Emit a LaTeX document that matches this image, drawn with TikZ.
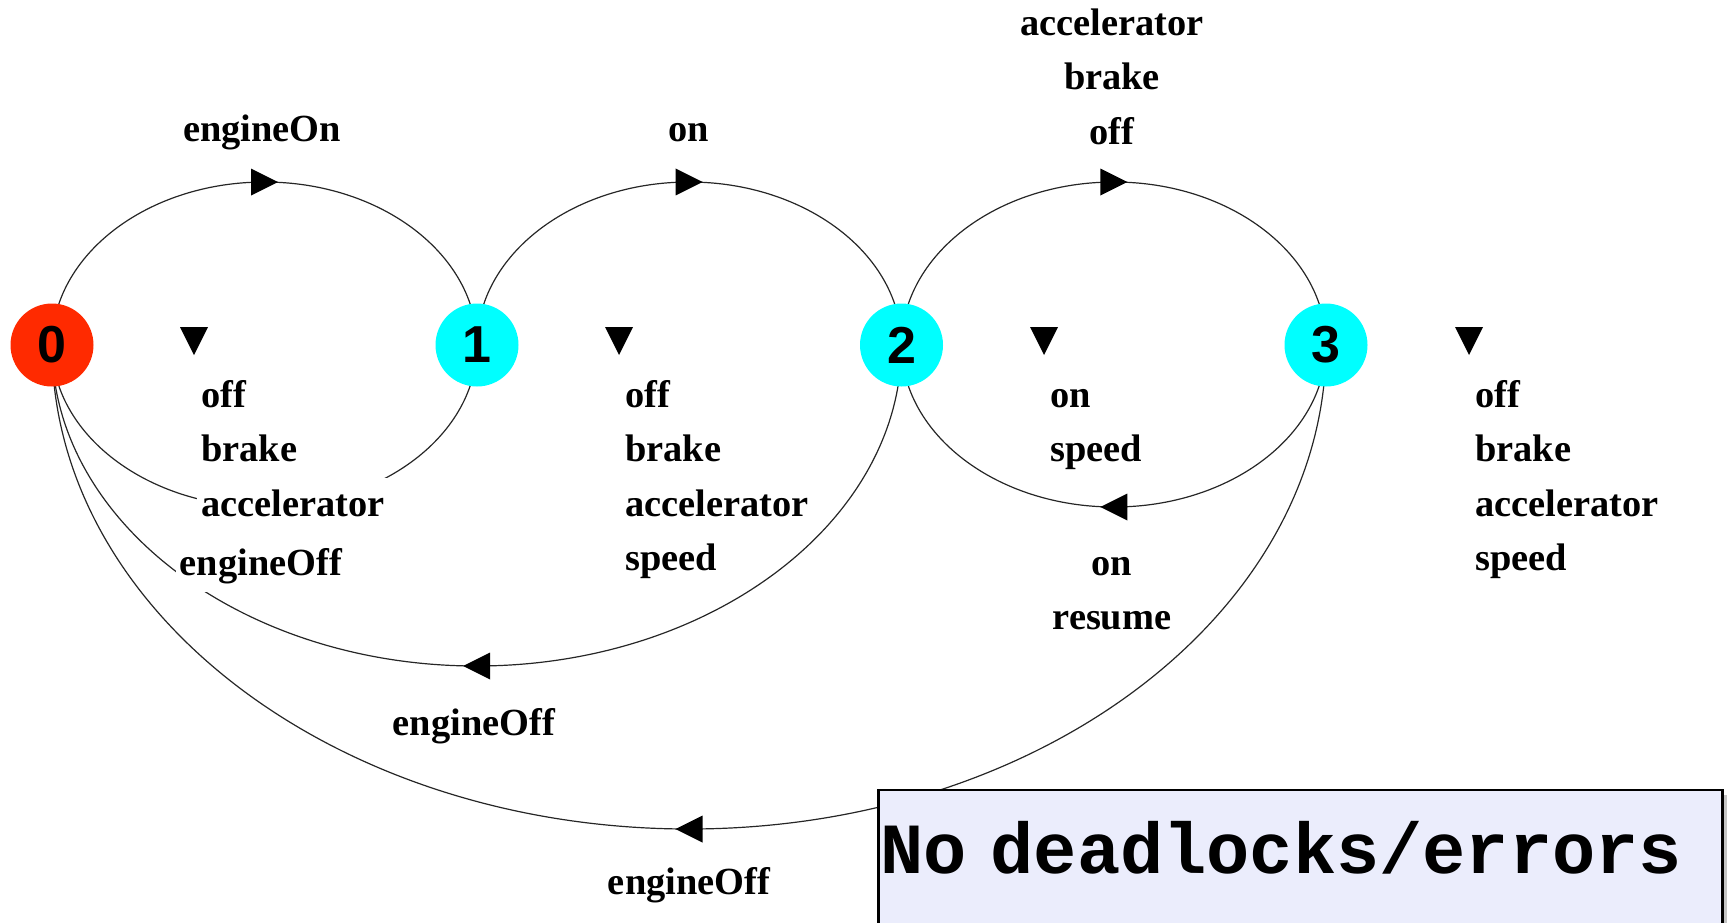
\documentclass[tikz,border=0pt]{standalone}
\usepackage{fontspec}
\setmainfont{Liberation Serif}
\newfontfamily\statefont{Liberation Sans}
\newfontfamily\okfont{Liberation Mono}
\usetikzlibrary{decorations.markings,shadows}
\pgfdeclarelayer{bg}
\pgfsetlayers{bg,main}
\definecolor{stred}{RGB}{255,42,0}
\definecolor{stcyan}{RGB}{0,255,255}
\definecolor{okfill}{RGB}{235,237,252}
\newcommand{\lblfont}{\fontsize{38.4}{54.5}\selectfont\bfseries}
\newcommand{\wl}[1]{{\setlength{\fboxsep}{0pt}\colorbox{white}{\strut\hspace{4pt}#1\hspace{4pt}}}}
\newcommand{\okboxfont}{\okfont\fontsize{72}{72}\selectfont\bfseries\fontdimen2\font=0.6em\fontdimen3\font=0pt\fontdimen4\font=0pt}
\begin{document}
\begin{tikzpicture}[x=1pt,y=-1pt,
  state/.style={circle, minimum size=83pt, inner sep=0pt,
    font=\statefont\fontsize{52}{52}\selectfont\bfseries},
  trans/.style={draw=black!85, line width=1.2pt, postaction={decorate},
    decoration={markings, mark=at position 0.5 with
      {\fill[black] (13.5pt,0pt) -- (-13.5pt,13.5pt) -- (-13.5pt,-13.5pt) -- cycle;}}},
  lbl/.style={font=\lblfont, inner sep=0pt},
  loopl/.style={lbl, align=left, anchor=north west},
  arcl/.style={lbl, align=center, anchor=north},
  okbox/.style={draw=black, line width=2.5pt, fill=okfill, anchor=west,
    text width=840pt, align=left, inner xsep=2pt, minimum height=140pt,
    text depth=25pt, font=\okboxfont,
    drop shadow={shadow xshift=5pt, shadow yshift=-5pt, fill=black!45}}
]
\useasboundingbox (0,0) rectangle (1729,922);

% states
\node[state, fill=stred]  (n0) at (52,345)   {0};
\node[state, fill=stcyan] (n1) at (477,345)  {1};
\node[state, fill=stcyan] (n2) at (901.5,345) {2};
\node[state, fill=stcyan] (n3) at (1326,345) {3};

% apex points of the transition arcs
\coordinate (t01) at (264.5,182);
\coordinate (t12) at (689,182);
\coordinate (t23) at (1114,182);
\coordinate (b10) at (264.5,507);
\coordinate (b32) at (1114,507);
\coordinate (b20) at (476.5,666);
\coordinate (b30) at (689,829);

\begin{pgfonlayer}{bg}
\draw[trans] (n0.center) .. controls +(0,-90) and +(-117,0) .. (t01)
             .. controls +(117,0) and +(0,-90) .. (n1.center);
\draw[trans] (n1.center) .. controls +(0,-90) and +(-117,0) .. (t12)
             .. controls +(117,0) and +(0,-90) .. (n2.center);
\draw[trans] (n2.center) .. controls +(0,-90) and +(-117,0) .. (t23)
             .. controls +(117,0) and +(0,-90) .. (n3.center);
\draw[trans] (n1.center) .. controls +(0,89.5) and +(117,0) .. (b10)
             .. controls +(-117,0) and +(0,89.5) .. (n0.center);
\draw[trans] (n3.center) .. controls +(0,89.5) and +(117,0) .. (b32)
             .. controls +(-117,0) and +(0,89.5) .. (n2.center);
\draw[trans] (n2.center) .. controls +(0,177) and +(234,0) .. (b20)
             .. controls +(-234,0) and +(0,177) .. (n0.center);
\draw[trans] (n3.center) .. controls +(0,267) and +(352,0) .. (b30)
             .. controls +(-352,0) and +(0,267) .. (n0.center);
\end{pgfonlayer}

% self-loop markers
\coordinate (m0) at (194,341);
\coordinate (m1) at (619,341);
\coordinate (m2) at (1044,341);
\coordinate (m3) at (1469,341);
\foreach \m in {m0,m1,m2,m3}
  \fill[black] (\m) ++(-14,-14) -- ++(28,0) -- ++(-14,28) -- cycle;

% self-loop labels
\node[loopl] (s0) at (197,369)  {\wl{off}\\\wl{brake}\\\wl{accelerator}};
\node[loopl] (s1) at (621,369)  {\wl{off}\\\wl{brake}\\\wl{accelerator}\\\wl{speed}};
\node[loopl] (s2) at (1046,369) {\wl{on}\\\wl{speed}};
\node[loopl] (s3) at (1471,369) {\wl{off}\\\wl{brake}\\\wl{accelerator}\\\wl{speed}};

% transition labels
\node[arcl] (l01) at (262,103)  {\wl{engineOn}};
\node[arcl] (l12) at (689,103)  {\wl{on}};
\node[arcl] (l23) at (1112,-3)  {\wl{accelerator}\\\wl{brake}\\\wl{off}};
\node[arcl] (l10) at (261,537)  {\wl{engineOff}};
\node[arcl] (l32) at (1112,537) {\wl{on}\\\wl{resume}};
\node[arcl] (l20) at (474,697)  {\wl{engineOff}};
\node[arcl] (l30) at (689,856)  {\wl{engineOff}};

% result box
\node[okbox] (ok) at (877,860) {No deadlocks/errors};
\end{tikzpicture}
\end{document}
